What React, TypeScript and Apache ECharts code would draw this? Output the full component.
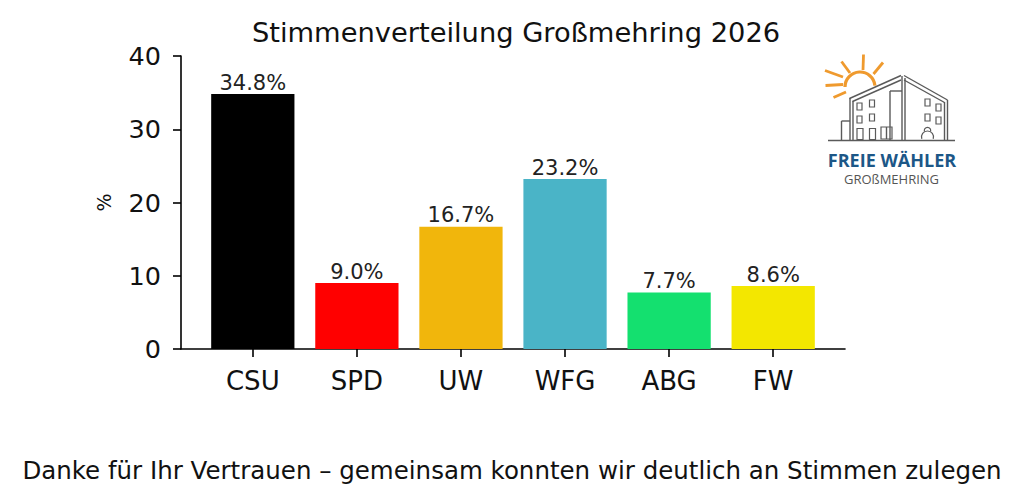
import React, { useEffect, useRef } from "react";
import * as echarts from "echarts";

const categories = ["CSU", "SPD", "UW", "WFG", "ABG", "FW"];
const values = [34.8, 9.0, 16.7, 23.2, 7.7, 8.6];
const colors = ["#000000", "#ff0000", "#f1b60c", "#4ab4c7", "#14e06f", "#f3e700"];
const yTicks = [0, 10, 20, 30, 40];
const titleText = "Stimmenverteilung Großmehring 2026";
const footerText = "Danke für Ihr Vertrauen – gemeinsam konnten wir deutlich an Stimmen zulegen";
const yName = "%";

const FONT = "DejaVu Sans";
const ORANGE = "#ef9a2e";
const GREY = "#5a5a5a";

function logoGraphics(): any[] {
  const ln = (x1: number, y1: number, x2: number, y2: number, color = GREY, w = 1.4) => ({
    type: "line",
    shape: { x1, y1, x2, y2 },
    style: { stroke: color, lineWidth: w },
    silent: true,
  });
  const win = (x: number, y: number, w = 5, h = 7) => ({
    type: "rect",
    shape: { x, y, width: w, height: h },
    style: { fill: "none", stroke: GREY, lineWidth: 1.2 },
    silent: true,
  });
  const els: any[] = [
    {
      type: "arc",
      shape: { cx: 860, cy: 87, r: 15, startAngle: Math.PI * 1.0, endAngle: Math.PI * 1.97 },
      style: { stroke: ORANGE, lineWidth: 3.2, fill: "none" },
      silent: true,
    },
    ln(843, 77, 825, 70.5, ORANGE, 2.8),
    ln(843, 84.5, 825.5, 85.5, ORANGE, 2.8),
    ln(846, 92, 833.5, 97.5, ORANGE, 2.8),
    ln(850, 73, 841.5, 61.5, ORANGE, 2.8),
    ln(863, 70, 863.5, 54.5, ORANGE, 2.8),
    ln(873.5, 74, 883, 62.5, ORANGE, 2.8),
    {
      type: "polygon",
      shape: { points: [[850, 98], [902, 75.5], [947, 100], [947, 140], [850, 140]] },
      style: { fill: "#ffffff" },
      silent: true,
    },
    ln(849.5, 98.5, 901, 75.5),
    ln(852.5, 101.5, 901, 80),
    ln(904, 75.5, 947.5, 100),
    ln(904, 80, 944.5, 102.5),
    ln(850, 98, 850, 140),
    ln(853, 101, 853, 140),
    ln(902, 76, 902, 140),
    ln(905, 78, 905, 140),
    ln(947.5, 100, 947.5, 140),
    ln(944.5, 102, 944.5, 140),
    ln(841.5, 121, 850, 121),
    ln(841.5, 121, 841.5, 140),
    ln(828, 140.5, 955, 140.5, GREY, 1.6),
    ln(890, 91, 890, 140),
    ln(890, 91, 902, 91),
    win(857, 103),
    win(869.5, 100),
    win(857, 116),
    win(869.5, 114),
    win(857, 128.5, 6, 11),
    win(869.5, 128.5, 6, 11),
    win(881, 127, 11, 12),
    ln(886.5, 127, 886.5, 139),
    win(925, 99, 5, 7),
    win(936, 104, 5, 7),
    win(925, 114, 5, 7),
    win(936, 117, 5, 7),
    {
      type: "arc",
      shape: { cx: 927.5, cy: 137, r: 6, startAngle: Math.PI * 0.9, endAngle: Math.PI * 2.1 },
      style: { stroke: GREY, lineWidth: 1.2, fill: "none" },
      silent: true,
    },
    {
      type: "arc",
      shape: { cx: 927.5, cy: 130.5, r: 3.2, startAngle: Math.PI * 0.9, endAngle: Math.PI * 2.1 },
      style: { stroke: GREY, lineWidth: 1.2, fill: "none" },
      silent: true,
    },
    {
      type: "text",
      x: 892,
      y: 160,
      style: {
        text: "FREIE WÄHLER",
        fill: "#1c5787",
        font: "bold 18px 'Open Sans'",
        align: "center",
        verticalAlign: "middle",
      },
      silent: true,
    },
    {
      type: "text",
      x: 891.5,
      y: 179,
      style: {
        text: "GROßMEHRING",
        fill: "#555555",
        font: "13px 'Open Sans'",
        align: "center",
        verticalAlign: "middle",
      },
      silent: true,
    },
  ];
  return els;
}

export default function App() {
  const ref = useRef<HTMLDivElement>(null);
  useEffect(() => {
    if (!ref.current) return;
    const chart = echarts.init(ref.current, undefined, { renderer: "svg" });
    const idx = categories.map((_, i) => i);
    const option: any = {
      animation: false,
      backgroundColor: "#ffffff",
      title: {
        text: titleText,
        left: 511,
        top: 14,
        textAlign: "center",
        textStyle: { fontFamily: FONT, fontSize: 27.3, fontWeight: "normal", color: "#111" },
      },
      grid: { left: 181, right: 179, top: 56, bottom: 155 },
      xAxis: {
        type: "value",
        min: -0.69,
        max: 5.69,
        splitLine: { show: false },
        axisLine: { show: true, onZero: false, lineStyle: { color: "#000", width: 1.6 } },
        axisTick: { show: true, length: 8, customValues: idx, lineStyle: { color: "#000", width: 1.6 } },
        axisLabel: {
          customValues: idx,
          formatter: (v: number) => categories[Math.round(v)] ?? "",
          fontFamily: FONT,
          fontSize: 26,
          color: "#111",
          margin: 19,
        },
      },
      yAxis: {
        type: "value",
        min: 0,
        max: 40,
        interval: 10,
        name: yName,
        nameLocation: "middle",
        nameRotate: 90,
        nameGap: 68,
        nameTextStyle: { fontFamily: FONT, fontSize: 19, color: "#111" },
        splitLine: { show: false },
        axisLine: { show: true, onZero: false, lineStyle: { color: "#000", width: 1.6 } },
        axisTick: { show: true, length: 8, lineStyle: { color: "#000", width: 1.6 } },
        axisLabel: {
          fontFamily: FONT,
          fontSize: 25.5,
          color: "#111",
          margin: 20,
          formatter: (v: number) => (yTicks.includes(v) ? String(v) : ""),
        },
      },
      series: [
        {
          type: "bar",
          barWidth: "80%",
          data: categories.map((c, i) => ({
            value: [i, values[i]],
            itemStyle: { color: colors[i] },
          })),
          label: {
            show: true,
            position: "top",
            distance: 1,
            fontFamily: FONT,
            fontSize: 21,
            color: "#222",
            formatter: (p: any) => `${p.value[1].toFixed(1)}%`,
          },
        },
      ],
      graphic: [
        ...logoGraphics(),
        {
          type: "text",
          x: 512,
          y: 470,
          style: {
            text: footerText,
            fill: "#111",
            font: "24.5px 'DejaVu Sans'",
            align: "center",
            verticalAlign: "middle",
          },
          silent: true,
        },
      ],
    };
    chart.setOption(option);
    return () => chart.dispose();
  }, []);
  return (
    <div
      ref={ref}
      style={{ position: "absolute", left: 0, top: 0, width: 1024, height: 504 }}
    />
  );
}
